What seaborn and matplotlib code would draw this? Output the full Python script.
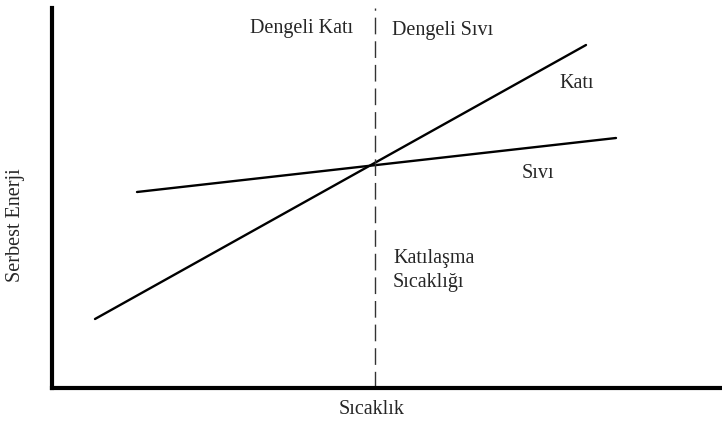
import pandas as pd
import matplotlib.pyplot as plt
import seaborn as sns

# Serbest enerji - sıcaklık diyagramı
kati_x = [43, 534]
kati_y = [69, 343]
sivi_x = [85, 564]
sivi_y = [196, 250]
erime_sicakligi = 322.5

sns.set_style('white')
plt.rcParams['font.family'] = ['Liberation Serif', 'DejaVu Serif']

df = pd.concat([
    pd.DataFrame({'x': kati_x, 'y': kati_y, 'faz': 'Katı'}),
    pd.DataFrame({'x': sivi_x, 'y': sivi_y, 'faz': 'Sıvı'}),
])

fig = plt.figure(figsize=(7.22, 4.25), dpi=100)
ax = fig.add_axes([52 / 722, 37 / 425, 670 / 722, 380 / 425])

sns.lineplot(data=df, x='x', y='y', units='faz', estimator=None,
             color='black', linewidth=1.7, ax=ax, legend=False)
ax.axvline(erime_sicakligi, color='#333333', linewidth=1.0,
           linestyle=(0, (12, 5)))

ax.set_xlim(0, 670)
ax.set_ylim(0, 380)
ax.set_xticks([])
ax.set_yticks([])
for s in ['top', 'right']:
    ax.spines[s].set_visible(False)
for s in ['left', 'bottom']:
    ax.spines[s].set_linewidth(3)
    ax.spines[s].set_color('black')

fs = 14.5
ax.text(198, 360, 'Dengeli Katı', fontsize=fs, va='center', ha='left')
ax.text(340, 358, 'Dengeli Sıvı', fontsize=fs, va='center', ha='left')
ax.text(507, 305, 'Katı', fontsize=fs, va='center', ha='left')
ax.text(470, 214, 'Sıvı', fontsize=fs, va='center', ha='left')
ax.text(341, 130, 'Katılaşma', fontsize=fs, va='center', ha='left')
ax.text(341, 106, 'Sıcaklığı', fontsize=fs, va='center', ha='left')

ax.set_xlabel('')
ax.set_ylabel('')
fig.text(372 / 722, 1 - 410 / 425, 'Sıcaklık', fontsize=fs,
         ha='center', va='center')
fig.text(16 / 722, 1 - 225 / 425, 'Serbest Enerji', fontsize=fs,
         ha='center', va='center', rotation=90)

plt.savefig('out.png', dpi=100)
